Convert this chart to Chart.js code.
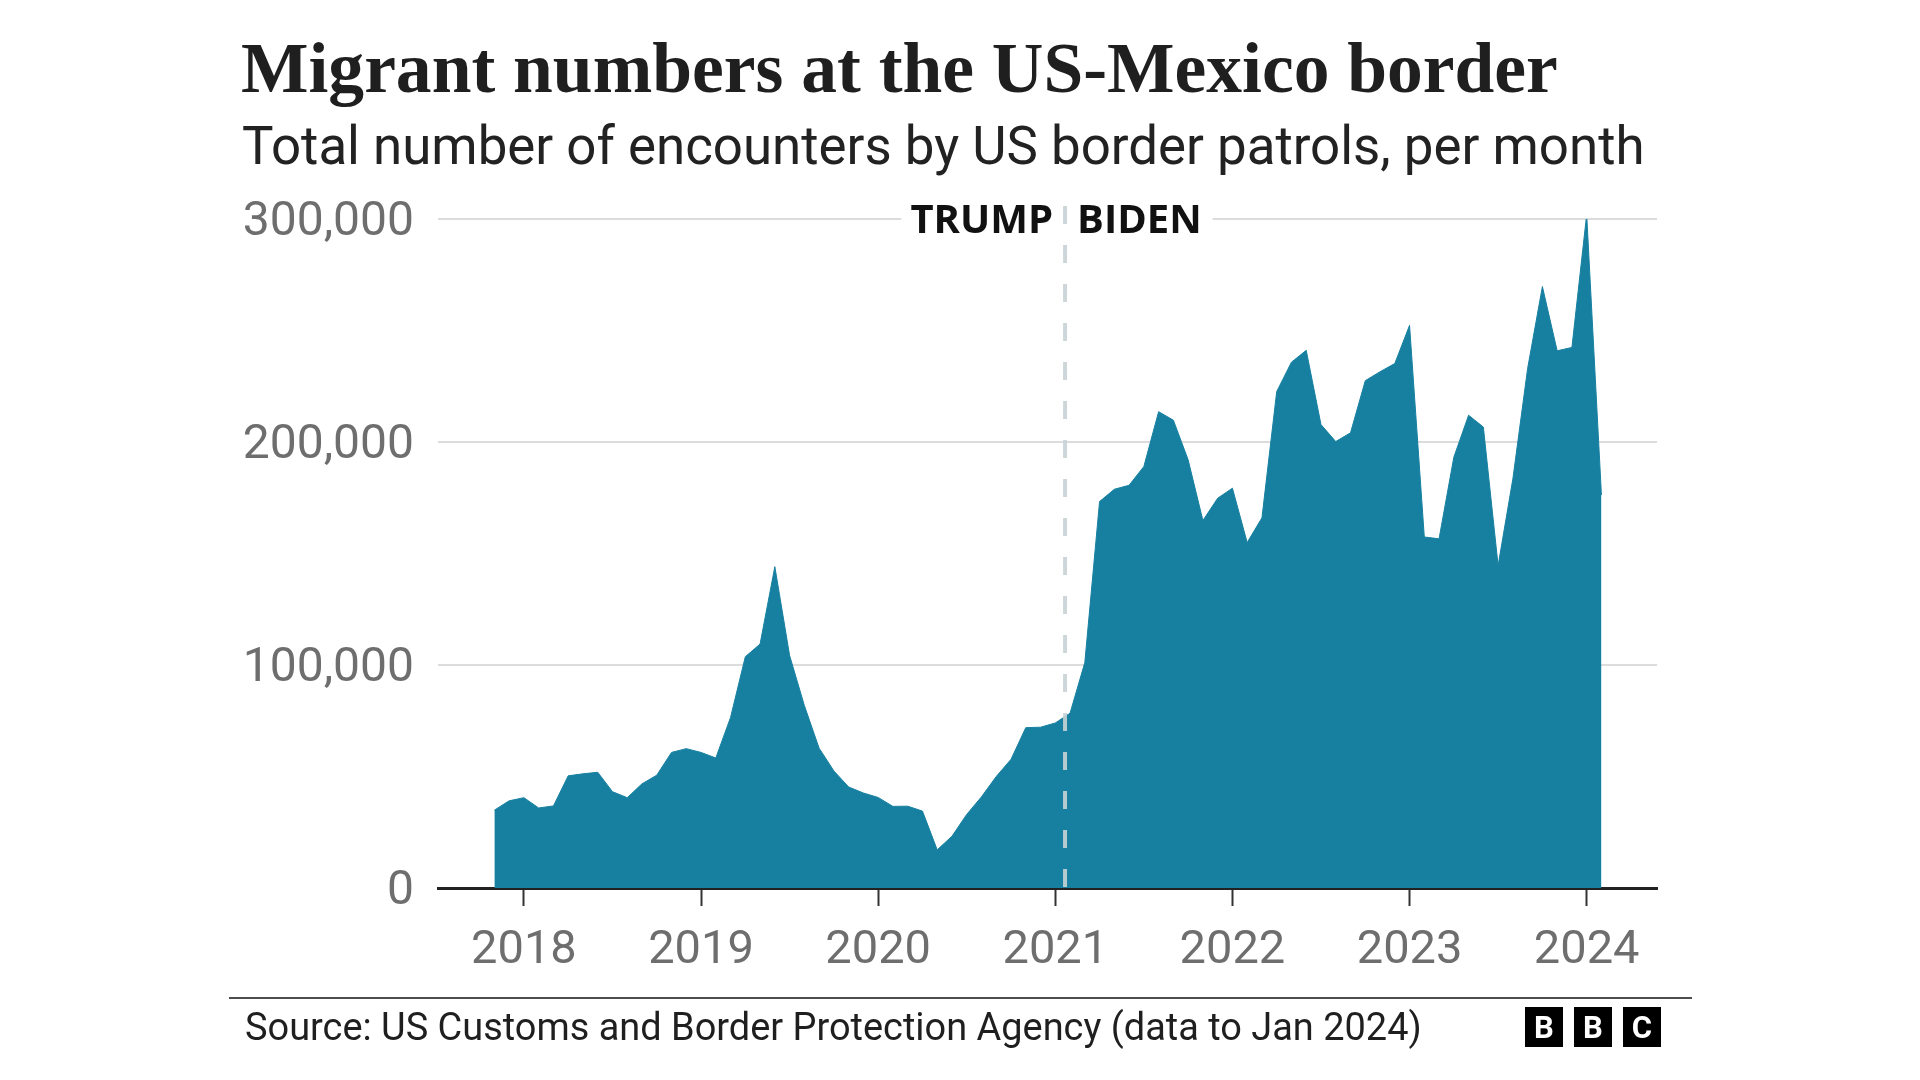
<!DOCTYPE html>
<html>
<head>
<meta charset="utf-8">
<title>Migrant numbers at the US-Mexico border</title>
<script src="https://cdn.jsdelivr.net/npm/chart.js@4.4.1/dist/chart.umd.min.js"></script>
<style>
  html, body { margin: 0; padding: 0; background: #fff; }
  #wrap { position: relative; width: 1920px; height: 1080px; overflow: hidden; }
  #chart { position: absolute; left: 0; top: 0; }
  .txt { position: absolute; white-space: nowrap; line-height: 1; margin: 0; }
  #title { left: 241px; font-family: "Liberation Serif", serif; font-weight: 700; font-size: 70px; color: #1f1f1f; }
  #subtitle { left: 242px; font-family: Roboto, sans-serif; font-size: 52px; color: #222; }
  #source { left: 245px; font-family: Roboto, sans-serif; font-size: 34px; color: #1f1f1f; }
  #rule { position: absolute; left: 229px; top: 997px; width: 1463px; height: 2px; background: #4d4d4d; }
  #logo { position: absolute; top: 1007px; left: 1525px; display: flex; gap: 11px; }
  #logo span { width: 38px; height: 40px; background: #000; color: #fff; font: 700 31px Roboto, sans-serif;
               display: flex; align-items: center; justify-content: center; }
</style>
</head>
<body>
<div id="wrap">
  <canvas id="chart" width="1920" height="1080"></canvas>
  <h1 id="title" class="txt">Migrant numbers at the US-Mexico border</h1>
  <div id="subtitle" class="txt">Total number of encounters by US border patrols, per month</div>
  <div id="rule"></div>
  <div id="source" class="txt">Source: US Customs and Border Protection Agency (data to Jan 2024)</div>
  <div id="logo"><span>B</span><span>B</span><span>C</span></div>
</div>
<script>
// monthly encounters, Oct 2017 - Jan 2024
const months = [
  '2017-10', '2017-11', '2017-12',
  '2018-01', '2018-02', '2018-03', '2018-04', '2018-05', '2018-06', '2018-07', '2018-08', '2018-09', '2018-10', '2018-11', '2018-12',
  '2019-01', '2019-02', '2019-03', '2019-04', '2019-05', '2019-06', '2019-07', '2019-08', '2019-09', '2019-10', '2019-11', '2019-12',
  '2020-01', '2020-02', '2020-03', '2020-04', '2020-05', '2020-06', '2020-07', '2020-08', '2020-09', '2020-10', '2020-11', '2020-12',
  '2021-01', '2021-02', '2021-03', '2021-04', '2021-05', '2021-06', '2021-07', '2021-08', '2021-09', '2021-10', '2021-11', '2021-12',
  '2022-01', '2022-02', '2022-03', '2022-04', '2022-05', '2022-06', '2022-07', '2022-08', '2022-09', '2022-10', '2022-11', '2022-12',
  '2023-01', '2023-02', '2023-03', '2023-04', '2023-05', '2023-06', '2023-07', '2023-08', '2023-09', '2023-10', '2023-11', '2023-12',
  '2024-01'
];

const encounters = [
  34900, 39100, 40500,
  35900, 36800, 50300, 51200, 51900, 43200, 40500, 46700, 50600, 60800, 62500, 60800,
  58300, 76500, 103700, 109400, 144100, 104300, 81800, 62700, 52500, 45300, 42600, 40600,
  36600, 36700, 34500, 17100, 23200, 33000, 40900, 50000, 57700, 71900, 72100, 74000,
  78400, 101100, 173300, 178800, 180600, 189000, 213600, 209800, 192000, 164800, 174800, 179300,
  154900, 166000, 222600, 235800, 241100, 207800, 200200, 204100, 227500, 231500, 235200, 252300,
  157400, 156600, 193200, 212000, 206700, 144600, 183500, 233000, 269700, 240900, 242400, 302000,
  176200
];

const yearTicks = [2018, 2019, 2020, 2021, 2022, 2023, 2024];
const valueTicks = [0, 100000, 200000, 300000];
const eraLabels = ['TRUMP', 'BIDEN'];
const inauguration = 2021.055; // 20 Jan 2021

// each month is placed at its end, so Dec 2023 sits on the 2024 tick
const points = months.map((m, i) => ({
  x: Number(m.slice(0, 4)) + Number(m.slice(5)) / 12,
  y: encounters[i]
}));

// text sizing: fit to the widths of the original, then put the baseline in place
function placeText(id, width, baseline) {
  const el = document.getElementById(id);
  const cs = getComputedStyle(el);
  const ctx = document.createElement('canvas').getContext('2d');
  let size = parseFloat(cs.fontSize);
  ctx.font = `${cs.fontWeight} ${size}px ${cs.fontFamily}`;
  size = size * width / ctx.measureText(el.textContent).width;
  ctx.font = `${cs.fontWeight} ${size}px ${cs.fontFamily}`;
  const m = ctx.measureText(el.textContent);
  el.style.fontSize = size + 'px';
  el.style.top = (baseline - (size + m.fontBoundingBoxAscent - m.fontBoundingBoxDescent) / 2) + 'px';
}
placeText('title', 1317, 92);
placeText('subtitle', 1403, 164);
placeText('source', 1177, 1041);

const eraPlugin = {
  id: 'era',
  afterDatasetsDraw(chart) {
    const { ctx, chartArea, scales: { x, y } } = chart;
    const xd = x.getPixelForValue(inauguration);
    const yTop = y.getPixelForValue(300000);
    ctx.save();
    ctx.font = '700 40px "Open Sans", sans-serif';
    const wL = ctx.measureText(eraLabels[0]).width;
    const wR = ctx.measureText(eraLabels[1]).width;

    // knock the gridline out behind the labels
    ctx.fillStyle = '#fff';
    ctx.fillRect(xd - 12 - wL - 9, yTop - 20, wL + wR + 25 + 19, 40);

    ctx.strokeStyle = 'rgba(200, 210, 212, 0.9)';
    ctx.lineWidth = 4;
    ctx.setLineDash([18, 21]);
    ctx.beginPath();
    ctx.moveTo(xd, yTop - 13);
    ctx.lineTo(xd, chartArea.bottom);
    ctx.stroke();
    ctx.setLineDash([]);

    ctx.fillStyle = '#111';
    ctx.textBaseline = 'alphabetic';
    ctx.textAlign = 'right';
    ctx.fillText(eraLabels[0], xd - 12, yTop + 14);
    ctx.textAlign = 'left';
    ctx.fillText(eraLabels[1], xd + 12, yTop + 14);
    ctx.restore();
  }
};

new Chart(document.getElementById('chart'), {
  type: 'line',
  data: {
    datasets: [{
      data: points,
      fill: 'origin',
      backgroundColor: '#1780a1',
      borderColor: '#1780a1',
      borderWidth: 1,
      pointRadius: 0,
      tension: 0
    }]
  },
  options: {
    responsive: false,
    animation: false,
    devicePixelRatio: 1,
    events: [],
    layout: { padding: { left: 200, top: 219, right: 263, bottom: 92 } },
    plugins: {
      legend: { display: false },
      tooltip: { enabled: false }
    },
    scales: {
      x: {
        type: 'linear',
        min: 2017.515,
        max: 2024.397,
        afterBuildTicks: scale => { scale.ticks = yearTicks.map(v => ({ value: v })); },
        afterFit: scale => { scale.height = 100; },
        grid: { drawOnChartArea: false, drawTicks: true, tickLength: 18, tickColor: '#333', tickWidth: 2 },
        border: { display: true, color: '#222', width: 3 },
        ticks: {
          color: '#6e6e6e',
          padding: 17,
          maxRotation: 0,
          font: { family: 'Roboto', size: 47 },
          callback: v => String(v)
        }
      },
      y: {
        min: 0,
        max: 300000,
        afterBuildTicks: scale => { scale.ticks = valueTicks.map(v => ({ value: v })); },
        afterFit: scale => { scale.width = 238; },
        grid: { color: '#dcdcdc', lineWidth: 2, drawTicks: false },
        border: { display: false },
        ticks: {
          color: '#6e6e6e',
          padding: 24,
          labelOffset: 4,
          font: { family: 'Roboto', size: 48 },
          callback: v => v.toLocaleString('en-US')
        }
      }
    }
  },
  plugins: [eraPlugin]
});
</script>
</body>
</html>
